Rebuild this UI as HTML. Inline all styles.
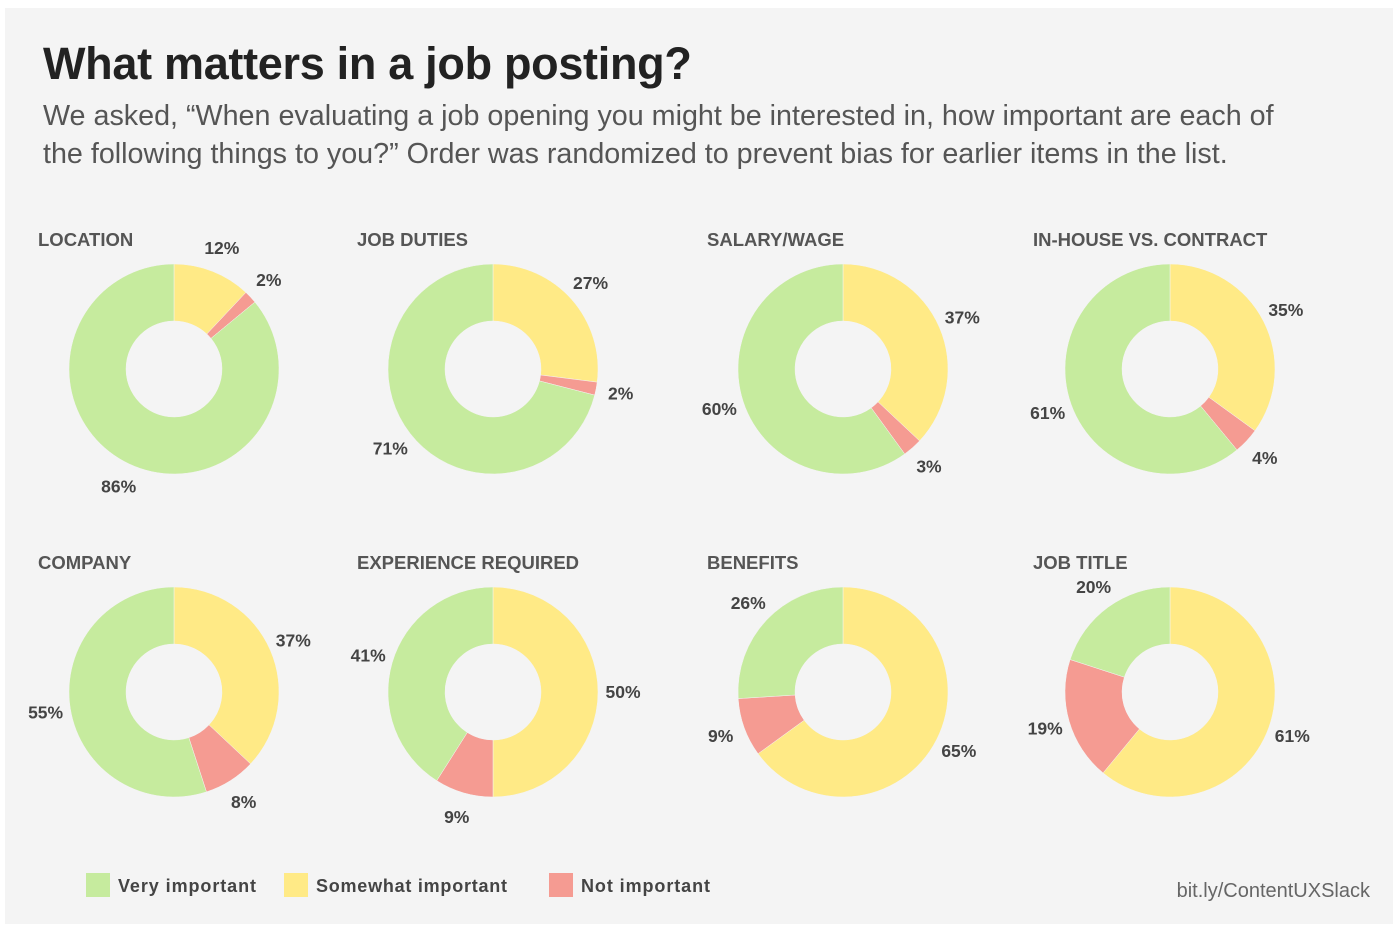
<!DOCTYPE html>
<html><head><meta charset="utf-8"><style>
html,body{margin:0;padding:0;background:#fff;}
body{width:1400px;height:932px;position:relative;overflow:hidden;font-family:"Liberation Sans",sans-serif;}
#panel{position:absolute;left:5px;top:8px;width:1388px;height:916px;background:#f4f4f4;}
h1{position:absolute;left:43px;top:38px;margin:0;font-size:45px;font-weight:bold;color:#222;letter-spacing:-0.3px;}
.sub{position:absolute;left:43px;top:97px;margin:0;font-size:28.7px;line-height:38px;color:#555;width:1345px;white-space:nowrap;}
svg{position:absolute;left:0;top:0;}
.src{position:absolute;right:30px;top:880px;font-size:20px;color:#666;}
</style></head><body>
<div id="panel"></div>
<h1>What matters in a job posting?</h1>
<p class="sub">We asked, “When evaluating a job opening you might be interested in, how important are each of<br>the following things to you?” Order was randomized to prevent bias for earlier items in the list.</p>
<svg id="chart" width="1400" height="932"></svg>
<div class="src">bit.ly/ContentUXSlack</div>
<script>
const categories=["LOCATION","JOB DUTIES","SALARY/WAGE","IN-HOUSE VS. CONTRACT","COMPANY","EXPERIENCE REQUIRED","BENEFITS","JOB TITLE"];
const somewhat=[12,27,37,35,37,50,65,61];
const notImp=[2,2,3,4,8,9,9,19];
const very=[86,71,60,61,55,41,26,20];
const seriesNames=["Very important","Somewhat important","Not important"];
const colors={very:"#c6eb9e",some:"#ffea86",not:"#f59b92"};
const NS="http://www.w3.org/2000/svg";
const svg=document.getElementById('chart');
const cx=[174,493,843,1170], cy=[369,692], titleX=[38,357,707,1033], titleY=[239,562];
const R=105,r=48,LR=130;
function el(t,a){const e=document.createElementNS(NS,t);for(const k in a)e.setAttribute(k,a[k]);svg.appendChild(e);return e;}
function pt(x,y,rad,frac){const a=frac*2*Math.PI;return [x+rad*Math.sin(a),y-rad*Math.cos(a)];}
function arc(x,y,f0,f1){
  const large=(f1-f0)>0.5?1:0;
  const [a,b]=pt(x,y,R,f0),[c,d]=pt(x,y,R,f1),[e,f]=pt(x,y,r,f1),[g,h]=pt(x,y,r,f0);
  return `M${a},${b}A${R},${R} 0 ${large} 1 ${c},${d}L${e},${f}A${r},${r} 0 ${large} 0 ${g},${h}Z`;
}
categories.forEach((cat,i)=>{
  const x=cx[i%4],y=cy[Math.floor(i/4)];
  const t=el('text',{x:titleX[i%4],y:titleY[Math.floor(i/4)]+7,'font-size':18.5,'font-weight':'bold',fill:'#555'});
  t.textContent=cat;
  
  
  const vals=[somewhat[i],notImp[i],very[i]];
  const cols=[colors.some,colors.not,colors.very];
  const tot=vals.reduce((s,v)=>s+v,0);
  let acc=0;
  vals.forEach((v,j)=>{
    const f0=acc/tot,f1=(acc+v)/tot;acc+=v;
    const p=el('path',{d:arc(x,y,f0,f1),fill:cols[j],stroke:'#f4f4f4','stroke-width':0.5});
    
    
    const [lx,ly]=pt(x,y,LR,(f0+f1)/2);
    const l=el('text',{x:lx,y:ly+6,'text-anchor':'middle','font-size':17.5,'font-weight':'bold',fill:'#444'});
    l.textContent=v+'%';
    
    
  });
});
const legX=[86,284,549],legC=[colors.very,colors.some,colors.not],legW=[138,191,129];
seriesNames.forEach((n,i)=>{
  const s=el('rect',{x:legX[i],y:873,width:24,height:24,fill:legC[i]});
  
  
  const t=el('text',{x:legX[i]+32,y:892,'font-size':18,'font-weight':'bold',fill:'#444',textLength:legW[i]});
  t.textContent=n;
  
  
});
</script>
</body></html>
